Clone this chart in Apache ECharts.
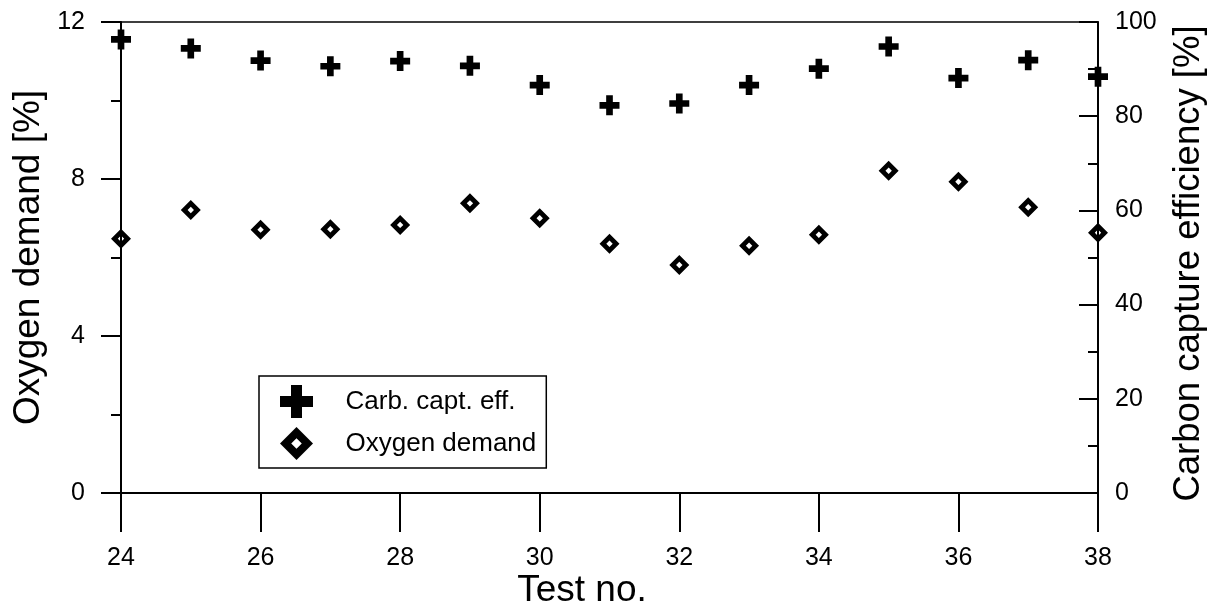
<!DOCTYPE html>
<html>
<head>
<meta charset="utf-8">
<script src="https://cdn.jsdelivr.net/npm/echarts@6/dist/echarts.min.js"></script>
<style>
html,body{margin:0;padding:0;background:#fff;}
#chart{width:1222px;height:613px;}
</style>
</head>
<body>
<div id="chart"></div>
<script>
// ---- data ----
var testNo = [24, 25, 26, 27, 28, 29, 30, 31, 32, 33, 34, 35, 36, 37, 38];
var carbCaptEff = [96.3, 94.4, 91.8, 90.6, 91.7, 90.7, 86.6, 82.3, 82.7, 86.6, 90.1, 94.8, 88.1, 91.9, 88.4];
var oxygenDemand = [6.48, 7.21, 6.71, 6.72, 6.83, 7.38, 7.00, 6.35, 5.81, 6.30, 6.58, 8.21, 7.93, 7.28, 6.63];
var seriesNames = ['Carb. capt. eff.', 'Oxygen demand'];
var xTitle = 'Test no.';
var yLeftTitle = 'Oxygen demand [%]';
var yRightTitle = 'Carbon capture efficiency [%]';

var crossPath = 'path://M1,0H2V1H3V2H2V3H1V2H0V1H1Z';
var diamondPath = 'path://M0,10L10,0L20,10L10,20Z M6.8,10L10,13.2L13.2,10L10,6.8Z';

function pairs(xs, ys) { return xs.map(function (x, i) { return [x, ys[i]]; }); }

var FONT = 'Liberation Sans, Arial, Helvetica, sans-serif';
var chart = echarts.init(document.getElementById('chart'), null, {renderer: 'canvas'});
chart.setOption({
  backgroundColor: '#fff',
  animation: false,
  textStyle: {fontFamily: FONT, color: '#000'},
  grid: {left: 121, right: 124, top: 22, bottom: 120, containLabel: false, outerBoundsMode: 'none'},
  legend: {
    orient: 'vertical',
    left: 259, top: 376,
    padding: [9, 10, 8, 21],
    itemWidth: 34, itemHeight: 33, itemGap: 9,
    borderColor: '#000', borderWidth: 1.5,
    backgroundColor: '#fff',
    textStyle: {fontFamily: FONT, fontSize: 26, color: '#000', padding: [0, 0, 0, 27]},
    data: [
      {name: seriesNames[0], icon: crossPath, itemStyle: {color: '#000', borderWidth: 0}},
      {name: seriesNames[1], icon: diamondPath, itemStyle: {color: '#000', borderWidth: 0}}
    ]
  },
  xAxis: [{
    type: 'value', position: 'bottom', min: 24, max: 38, interval: 2,
    name: xTitle, nameLocation: 'middle', nameGap: 79, nameMoveOverlap: false,
    nameTextStyle: {fontSize: 37, fontFamily: FONT, color: '#000', padding: [0, 55, 0, 0]},
    axisLine: {show: true, onZero: false, lineStyle: {color: '#000', width: 2}},
    axisTick: {show: true, inside: false, length: 39, lineStyle: {color: '#000', width: 2}},
    axisLabel: {show: true, margin: 53, fontSize: 25, fontFamily: FONT, color: '#000'},
    splitLine: {show: false}
  }, {
    type: 'value', position: 'top', min: 24, max: 38, interval: 2,
    axisLine: {show: true, onZero: false, lineStyle: {color: '#000', width: 1.5}},
    axisTick: {show: false}, axisLabel: {show: false}, splitLine: {show: false}
  }],
  yAxis: [{
    type: 'value', position: 'left', min: 0, max: 12, interval: 4,
    name: yLeftTitle, nameLocation: 'middle', nameGap: 74, nameRotate: 90, nameMoveOverlap: false,
    nameTextStyle: {fontSize: 37, fontFamily: FONT, color: '#000'},
    axisLine: {show: true, onZero: false, lineStyle: {color: '#000', width: 2}},
    axisTick: {show: true, inside: false, length: 20, lineStyle: {color: '#000', width: 2}},
    minorTick: {show: true, splitNumber: 2, length: 10, lineStyle: {color: '#000', width: 2}},
    axisLabel: {show: true, margin: 36, fontSize: 25, fontFamily: FONT, color: '#000'},
    splitLine: {show: false}, minorSplitLine: {show: false}
  }, {
    type: 'value', position: 'right', min: 0, max: 100, interval: 20,
    name: yRightTitle, nameLocation: 'middle', nameGap: 72, nameRotate: 90, nameMoveOverlap: false,
    nameTextStyle: {fontSize: 36.5, fontFamily: FONT, color: '#000', padding: [0, 12, 0, 0]},
    axisLine: {show: true, onZero: false, lineStyle: {color: '#000', width: 2}},
    axisTick: {show: true, inside: true, length: 19, lineStyle: {color: '#000', width: 2}},
    minorTick: {show: true, splitNumber: 2, length: 10, lineStyle: {color: '#000', width: 2}},
    axisLabel: {show: true, inside: false, margin: 17, fontSize: 25, fontFamily: FONT, color: '#000'},
    splitLine: {show: false}, minorSplitLine: {show: false}
  }],
  series: [{
    name: seriesNames[0], type: 'scatter', xAxisIndex: 0, yAxisIndex: 1,
    symbol: crossPath, symbolSize: 20, clip: false, z: 5,
    itemStyle: {color: '#000', opacity: 1},
    data: pairs(testNo, carbCaptEff)
  }, {
    name: seriesNames[1], type: 'scatter', xAxisIndex: 0, yAxisIndex: 0,
    symbol: diamondPath, symbolSize: 20, clip: false, z: 5,
    itemStyle: {color: '#000', opacity: 1},
    data: pairs(testNo, oxygenDemand)
  }]
});
</script>
</body>
</html>
